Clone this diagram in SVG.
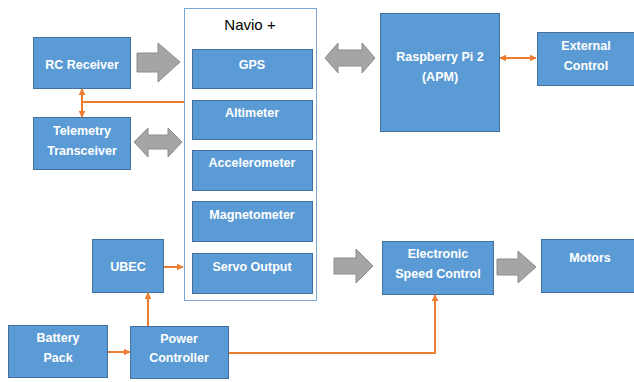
<svg xmlns="http://www.w3.org/2000/svg" width="634" height="382" viewBox="0 0 634 382">
<defs>
<style>
.box{fill:#5B9BD5;stroke:#41719C;stroke-width:1}
.t{font-family:"Liberation Sans",Arial,sans-serif;font-weight:bold;font-size:12.5px;fill:#fff;text-anchor:middle}
.g{fill:#A5A5A5;stroke:#8C8C8C;stroke-width:1}
.o{fill:none;stroke:#ED7D31;stroke-width:2}
</style>
<marker id="ah" viewBox="0 0 10 10" refX="9" refY="5" markerWidth="7" markerHeight="7" markerUnits="userSpaceOnUse" orient="auto-start-reverse">
<path d="M0,0 L10,5 L0,10 Z" fill="#ED7D31"/>
</marker>
</defs>
<rect width="634" height="382" fill="#fff"/>

<g id="navio">
<rect x="184.5" y="8.5" width="132" height="292" fill="#fff" stroke="#7BA7D6" stroke-width="1"/>
<text x="250" y="30" font-family="Liberation Sans,Arial,sans-serif" font-size="15" text-anchor="middle" fill="#000">Navio +</text>
</g>
<g id="gps"><rect class="box" x="192.5" y="49.5" width="120" height="39"/><text class="t" x="252" y="69">GPS</text></g>
<g id="altimeter"><rect class="box" x="192.5" y="100.5" width="120" height="39"/><text class="t" x="252" y="117">Altimeter</text></g>
<g id="accelerometer"><rect class="box" x="192.5" y="150.5" width="120" height="40"/><text class="t" x="252" y="167">Accelerometer</text></g>
<g id="magnetometer"><rect class="box" x="192.5" y="201.5" width="120" height="40"/><text class="t" x="252" y="219">Magnetometer</text></g>
<g id="servo"><rect class="box" x="192.5" y="253.5" width="120" height="40"/><text class="t" x="252" y="271">Servo Output</text></g>

<g id="rc"><rect class="box" x="33.5" y="37.5" width="97" height="51"/><text class="t" x="82" y="69">RC Receiver</text></g>
<g id="telemetry"><rect class="box" x="33.5" y="117.5" width="97" height="52"/><text class="t" x="82" y="135">Telemetry</text><text class="t" x="82" y="155">Transceiver</text></g>
<g id="rpi"><rect class="box" x="380.5" y="13.5" width="119" height="118"/><text class="t" x="440" y="61">Raspberry Pi 2</text><text class="t" x="440" y="81">(APM)</text></g>
<g id="external"><rect class="box" x="537.5" y="32.5" width="97" height="53"/><text class="t" x="586" y="50">External</text><text class="t" x="586" y="70">Control</text></g>
<g id="ubec"><rect class="box" x="92.5" y="239.5" width="71" height="53"/><text class="t" x="128" y="271">UBEC</text></g>
<g id="battery"><rect class="box" x="8.5" y="325.5" width="99" height="52"/><text class="t" x="58" y="342">Battery</text><text class="t" x="58" y="362">Pack</text></g>
<g id="power"><rect class="box" x="130.5" y="326.5" width="98" height="52"/><text class="t" x="179" y="343">Power</text><text class="t" x="179" y="362">Controller</text></g>
<g id="esc"><rect class="box" x="382.5" y="241.5" width="111" height="53"/><text class="t" x="438" y="258">Electronic</text><text class="t" x="438" y="278">Speed Control</text></g>
<g id="motors"><rect class="box" x="541.5" y="239.5" width="93" height="53"/><text class="t" x="590" y="262">Motors</text></g>

<g id="connectors">
<path class="g" d="M137,53 H158 V43 L180,62 L158,82 V72 H137 Z"/>
<path class="g" d="M134,142 L148,128 V135 H168 V128 L182,142 L168,157 V149 H148 V157 Z"/>
<path class="g" d="M325,58 L338,43 V50 H362 V43 L375,58 L362,73 V66 H338 V73 Z"/>
<path class="g" d="M334,258 H356 V249 L373,266 L356,283 V274 H334 Z"/>
<path class="g" d="M497,259 H518 V251 L536,267 L518,283 V275 H497 Z"/>
<path class="o" d="M82,89 V117" marker-start="url(#ah)" marker-end="url(#ah)"/>
<path class="o" d="M184,102 H82"/>
<path class="o" d="M500,58 H536" marker-start="url(#ah)" marker-end="url(#ah)"/>
<path class="o" d="M164,267 H183" marker-end="url(#ah)"/>
<path class="o" d="M108,352 H130" marker-end="url(#ah)"/>
<path class="o" d="M148,326 V293" marker-end="url(#ah)"/>
<path class="o" d="M229,353 H435 V295" marker-end="url(#ah)"/>
</g>
</svg>
